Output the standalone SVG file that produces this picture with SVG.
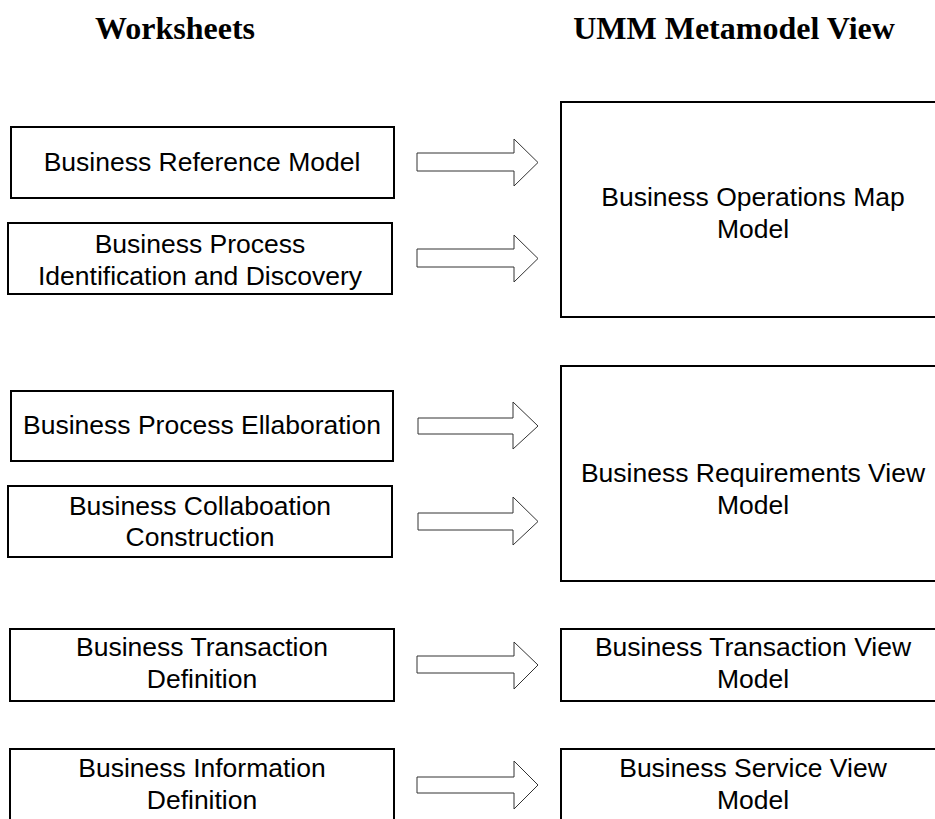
<svg xmlns="http://www.w3.org/2000/svg" width="935" height="819" viewBox="0 0 935 819">
<style>
.box{fill:#fff;stroke:#000;stroke-width:2}
.arr{fill:#fff;stroke:#333;stroke-width:1}
.t{font-family:"Liberation Sans",Arial,sans-serif;font-size:26.5px;fill:#000;text-anchor:middle}
.h{font-family:"Liberation Serif","Times New Roman",serif;font-size:32px;font-weight:bold;fill:#000;text-anchor:middle}
</style>
<rect width="935" height="819" fill="#fff"/>
<g id="headers">
<text class="h" x="175" y="39">Worksheets</text>
<text class="h" x="734" y="39">UMM Metamodel View</text>
</g>
<g id="ws-business-reference-model">
<rect class="box" x="11" y="127" width="383" height="71"/>
<text class="t" x="202" y="171">Business Reference Model</text>
</g>
<g id="ws-bp-identification">
<rect class="box" x="8" y="223" width="384" height="71"/>
<text class="t" x="200" y="253">Business Process</text>
<text class="t" x="200" y="285">Identification and Discovery</text>
</g>
<g id="ws-bp-elaboration">
<rect class="box" x="11" y="391" width="382" height="70"/>
<text class="t" x="202" y="434">Business Process Ellaboration</text>
</g>
<g id="ws-collaboration-construction">
<rect class="box" x="8" y="486" width="384" height="71"/>
<text class="t" x="200" y="515">Business Collaboation</text>
<text class="t" x="200" y="546">Construction</text>
</g>
<g id="ws-transaction-definition">
<rect class="box" x="10" y="629" width="384" height="72"/>
<text class="t" x="202" y="656">Business Transaction</text>
<text class="t" x="202" y="688">Definition</text>
</g>
<g id="ws-information-definition">
<rect class="box" x="10" y="749" width="384" height="80"/>
<text class="t" x="202" y="777">Business Information</text>
<text class="t" x="202" y="809">Definition</text>
</g>
<g id="umm-business-operations-map">
<rect class="box" x="561" y="102" width="384" height="215"/>
<text class="t" x="753" y="206">Business Operations Map</text>
<text class="t" x="753" y="238">Model</text>
</g>
<g id="umm-business-requirements-view">
<rect class="box" x="561" y="366" width="384" height="215"/>
<text class="t" x="753" y="482">Business Requirements View</text>
<text class="t" x="753" y="514">Model</text>
</g>
<g id="umm-business-transaction-view">
<rect class="box" x="561" y="629" width="384" height="72"/>
<text class="t" x="753" y="656">Business Transaction View</text>
<text class="t" x="753" y="688">Model</text>
</g>
<g id="umm-business-service-view">
<rect class="box" x="561" y="749" width="384" height="80"/>
<text class="t" x="753" y="777">Business Service View</text>
<text class="t" x="753" y="809">Model</text>
</g>
<g id="connectors">
<polygon class="arr" points="417,153 514,153 514,139 538,162.5 514,186 514,171 417,171"/>
<polygon class="arr" points="417,249 514,249 514,235 538,258.5 514,282 514,267 417,267"/>
<polygon class="arr" points="418,418 513,418 513,402 538,426 513,449 513,434 418,434"/>
<polygon class="arr" points="418,513 513,513 513,497 538,521.5 513,545 513,530 418,530"/>
<polygon class="arr" points="417,656 514,656 514,642 538,665 514,689 514,673 417,673"/>
<polygon class="arr" points="417,777 514,777 514,761 538,785 514,809 514,793 417,793"/>
</g>
</svg>
